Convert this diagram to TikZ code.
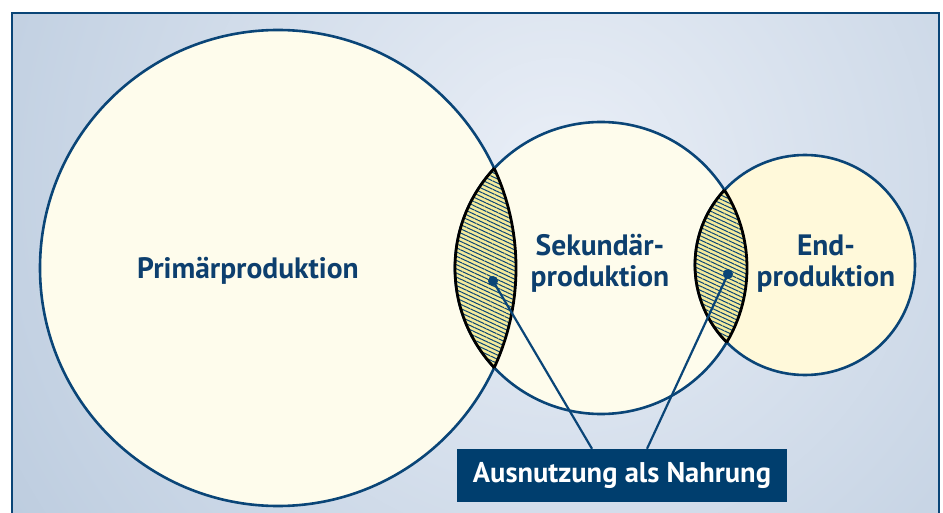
\documentclass[tikz,border=0pt]{standalone}
\usepackage{fontspec}
\setmainfont{PT Sans}
\usetikzlibrary{patterns.meta}
\definecolor{navy}{HTML}{0A4577}
\definecolor{txtblue}{HTML}{0D3F6E}
\definecolor{boxblue}{HTML}{003E6E}
\definecolor{bgin}{HTML}{EAEFF7}
\definecolor{bgout}{HTML}{A6BBD3}
\definecolor{cream}{HTML}{FEFCEC}
\definecolor{creamy}{HTML}{FFF9DA}
\definecolor{hatchy}{HTML}{F5EB9C}

\tikzset{ring/.style = {shape = circle,
                        draw = navy,
                        line width = 2.6pt,
                        inner sep = 0pt},
         tnode/.style = {text = txtblue,
                         align = center,
                         font = \bfseries\fontsize{29.5}{31}\selectfont},
         mdot/.style = {shape = circle,
                        fill = navy,
                        inner sep = 0pt,
                        minimum size = 10pt},
         link/.style = {draw = navy,
                        line width = 2.2pt},
         lens/.style = {pattern = {Lines[angle=-25,distance=3.8pt,line width=1pt]},
                        pattern color = navy},
         lensline/.style = {draw = black,
                            line width = 2.8pt}}

\begin{document}
\begin{tikzpicture}[x=1pt,y=-1pt]
		\useasboundingbox (0,0) rectangle (943,513);
		% background
		\begin{scope}
			\clip (12,13) rectangle (939,513);
			\shade[inner color=bgin, outer color=bgout] (560,180) circle (980pt);
		\end{scope}
		\draw[navy, line width=1.4pt] (12,520) -- (12,13) -- (939,13) -- (939,520);
		% circles
		\node[ring, fill=cream, minimum size=476pt] (prim) at (278,268) {};
		\node[ring, fill=cream, minimum size=292pt] (sek) at (601,268) {};
		\node[ring, fill=creamy, minimum size=220pt] (end) at (805,265) {};
		% overlaps
		\begin{scope}
			\clip (prim.center) circle (238pt);
			\fill[hatchy] (sek.center) circle (146pt);
			\path[lens] (sek.center) circle (146pt);
			\draw[lensline] (sek.center) circle (146pt);
		\end{scope}
		\begin{scope}
			\clip (sek.center) circle (146pt);
			\draw[lensline] (prim.center) circle (238pt);
			\fill[hatchy] (end.center) circle (110pt);
			\path[lens] (end.center) circle (110pt);
			\draw[lensline] (end.center) circle (110pt);
		\end{scope}
		\begin{scope}
			\clip (end.center) circle (110pt);
			\draw[lensline] (sek.center) circle (146pt);
		\end{scope}
		% texts
		\node[tnode] (tprim) at (248,271) {Primärproduktion};
		\node[tnode] (tsek) at (600,263) {Sekundär-\\produktion};
		\node[tnode] (tend) at (826,264) {End-\\produktion};
		\node[fill=boxblue, text=white, minimum width=330pt, minimum height=53pt,
		      font=\bfseries\fontsize{28.5}{31}\selectfont] (nahrung) at (622,475.5) {Ausnutzung als Nahrung};
		% pointers
		\node[mdot] (d1) at (493,281) {};
		\node[mdot] (d2) at (728,274) {};
		\path[link] (d1.center) -- ([xshift=-30pt]nahrung.north);
		\path[link] (d2.center) -- ([xshift=25pt]nahrung.north);
	\end{tikzpicture}
\end{document}
